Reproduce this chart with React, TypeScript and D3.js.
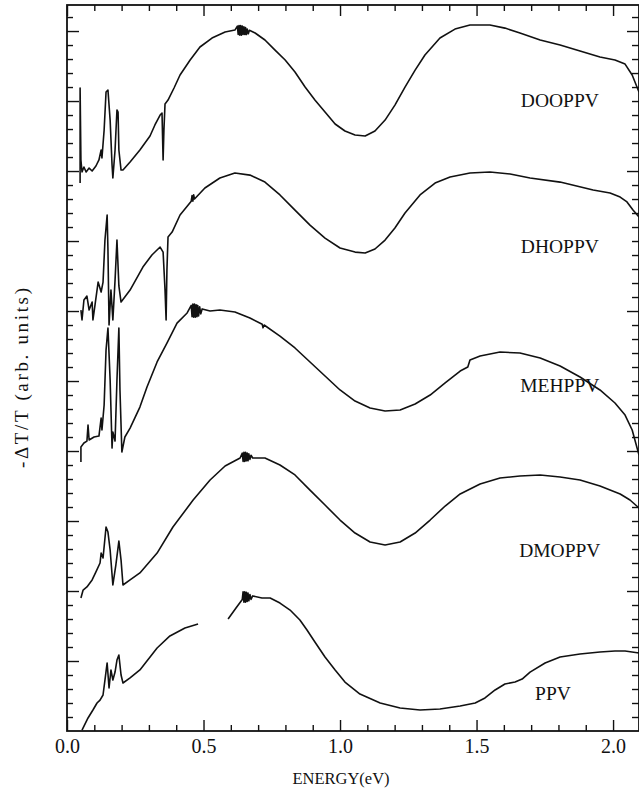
import React, { useEffect, useRef } from "react";
import * as d3 from "d3";

// energy (eV), signal (arb. units, one unit per minor tick)
const dooppv: [number, number][] = [
  [0.048, 39.14], [0.048, 45.93], [0.051, 40.79], [0.055, 39.93], [0.062, 40.29], [0.07, 39.93],
  [0.081, 40.21], [0.092, 40.0], [0.106, 40.36], [0.117, 40.79], [0.125, 41.5], [0.128, 40.93],
  [0.136, 42.93], [0.143, 45.64], [0.15, 45.79], [0.158, 43.64], [0.165, 40.43], [0.168, 39.5],
  [0.176, 41.5], [0.183, 44.36], [0.187, 44.21], [0.19, 41.5], [0.198, 40.07], [0.205, 40.07],
  [0.231, 40.64], [0.267, 41.5], [0.304, 42.5], [0.322, 43.29], [0.341, 44.0], [0.348, 44.14],
  [0.352, 40.79], [0.355, 42.93], [0.359, 44.79], [0.37, 45.07], [0.392, 45.93], [0.414, 46.86],
  [0.451, 47.93], [0.487, 48.86], [0.531, 49.5], [0.579, 49.93], [0.615, 50.07], [0.624, 50.35],
  [0.627, 49.75], [0.630, 50.4], [0.633, 49.7], [0.636, 50.4], [0.639, 49.7], [0.642, 50.35],
  [0.645, 49.75], [0.648, 50.3], [0.651, 49.75], [0.654, 50.25], [0.657, 49.75], [0.66, 50.15],
  [0.664, 49.8], [0.668, 50.05], [0.689, 49.86], [0.725, 49.36], [0.762, 48.64],
  [0.799, 47.93], [0.835, 47.07], [0.872, 46.0], [0.908, 45.07], [0.945, 44.21], [0.982, 43.36],
  [1.018, 42.86], [1.055, 42.57], [1.092, 42.5], [1.128, 42.86], [1.165, 43.64], [1.201, 44.71],
  [1.238, 46.0], [1.275, 47.21], [1.311, 48.29], [1.366, 49.5], [1.421, 50.14], [1.476, 50.43],
  [1.549, 50.43], [1.604, 50.21], [1.659, 49.86], [1.733, 49.36], [1.806, 49.0], [1.879, 48.57],
  [1.952, 48.14], [2.007, 47.93], [2.044, 47.64], [2.07, 46.86], [2.095, 45.64],
];

const dhoppv: [number, number][] = [
  [0.051, 30.07], [0.055, 29.36], [0.062, 30.79], [0.073, 31.07], [0.081, 30.07], [0.092, 30.64],
  [0.095, 29.36], [0.103, 30.5], [0.114, 32.07], [0.125, 31.36], [0.132, 32.07], [0.139, 35.07],
  [0.147, 36.86], [0.15, 34.36], [0.154, 29.0], [0.161, 31.5], [0.168, 29.36], [0.176, 32.21],
  [0.183, 35.07], [0.19, 31.79], [0.198, 30.64], [0.231, 31.5], [0.278, 33.14], [0.311, 34.0],
  [0.341, 34.57], [0.352, 34.21], [0.359, 31.5], [0.363, 29.36], [0.366, 32.93], [0.37, 35.29],
  [0.385, 35.64], [0.414, 36.86], [0.455, 37.85], [0.458, 38.25], [0.461, 37.85], [0.464, 38.3],
  [0.467, 38.0], [0.505, 38.79], [0.56, 39.5], [0.615, 39.86], [0.67, 39.71], [0.725, 39.21],
  [0.78, 38.29], [0.835, 37.21], [0.89, 36.14], [0.945, 35.21], [1.0, 34.5], [1.055, 34.21],
  [1.092, 34.14], [1.128, 34.43], [1.165, 35.07], [1.201, 35.93], [1.238, 37.0], [1.293, 38.29],
  [1.348, 39.14], [1.403, 39.57], [1.476, 39.86], [1.549, 39.93], [1.623, 39.79], [1.696, 39.5],
  [1.806, 39.21], [1.927, 38.64], [1.989, 38.43], [2.026, 38.14], [2.051, 37.79], [2.073, 37.21],
  [2.095, 36.71],
];

const mehppv: [number, number][] = [
  [0.051, 19.21], [0.051, 20.29], [0.062, 20.57], [0.073, 20.71], [0.077, 21.86], [0.081, 20.79],
  [0.099, 21.0], [0.117, 21.07], [0.125, 22.36], [0.128, 21.5], [0.136, 23.29], [0.143, 27.21],
  [0.15, 28.79], [0.158, 25.07], [0.165, 20.21], [0.168, 21.36], [0.176, 20.71], [0.183, 25.07],
  [0.19, 28.79], [0.194, 24.36], [0.201, 19.93], [0.212, 21.0], [0.231, 21.64], [0.267, 23.14],
  [0.293, 24.57], [0.33, 26.36], [0.366, 27.71], [0.403, 29.14], [0.44, 29.86], [0.455, 30.4],
  [0.458, 29.6], [0.461, 30.5], [0.464, 29.55], [0.467, 30.5], [0.470, 29.55], [0.473, 30.45],
  [0.476, 29.6], [0.479, 30.4], [0.482, 29.65], [0.486, 30.3], [0.49, 29.8], [0.495, 30.15],
  [0.524, 30.0], [0.56, 30.07], [0.615, 29.93], [0.67, 29.5], [0.715, 29.05], [0.718, 28.8],
  [0.722, 29.0], [0.78, 28.21], [0.835, 27.36], [0.89, 26.36], [0.945, 25.36], [1.0, 24.36],
  [1.055, 23.57], [1.11, 23.07], [1.165, 22.86], [1.22, 22.93], [1.275, 23.36], [1.33, 24.0],
  [1.385, 24.86], [1.44, 25.71], [1.468, 26.0], [1.476, 26.5], [1.513, 26.79], [1.586, 27.07],
  [1.659, 27.0], [1.733, 26.64], [1.806, 26.07], [1.879, 25.29], [1.952, 24.36], [2.007, 23.43],
  [2.044, 22.57], [2.07, 21.5], [2.095, 19.71],
];

const dmoppv: [number, number][] = [
  [0.051, 9.5], [0.059, 10.07], [0.073, 10.29], [0.092, 10.79], [0.106, 11.36], [0.121, 12.0],
  [0.125, 12.71], [0.132, 12.36], [0.143, 14.57], [0.15, 14.21], [0.158, 12.93], [0.168, 10.43],
  [0.179, 11.86], [0.19, 13.57], [0.198, 12.21], [0.205, 10.43], [0.231, 10.79], [0.267, 11.29],
  [0.33, 12.71], [0.388, 14.57], [0.462, 16.5], [0.524, 17.93], [0.579, 18.93], [0.634, 19.5],
  [0.642, 19.85], [0.645, 19.25], [0.648, 19.9], [0.651, 19.25], [0.654, 19.9], [0.657, 19.3],
  [0.66, 19.85], [0.663, 19.3], [0.666, 19.8], [0.67, 19.4], [0.674, 19.7], [0.68, 19.5],
  [0.725, 19.5], [0.78, 19.0], [0.835, 18.29], [0.89, 17.21], [0.945, 16.14], [1.0, 15.07],
  [1.055, 14.14], [1.11, 13.5], [1.165, 13.29], [1.22, 13.5], [1.275, 14.14], [1.33, 15.07],
  [1.385, 16.07], [1.44, 16.93], [1.513, 17.64], [1.586, 18.07], [1.659, 18.21], [1.733, 18.29],
  [1.806, 18.14], [1.879, 17.93], [1.952, 17.5], [2.026, 16.93], [2.062, 16.5], [2.095, 15.93],
];

// PPV has a gap between 0.48 and 0.59 eV
const ppvLow: [number, number][] = [
  [0.055, 0.07], [0.077, 0.93], [0.095, 1.5], [0.11, 2.0], [0.121, 2.21], [0.132, 2.57],
  [0.139, 3.64], [0.147, 4.86], [0.154, 3.07], [0.161, 4.36], [0.168, 3.64], [0.176, 4.21],
  [0.183, 5.07], [0.19, 5.43], [0.198, 4.0], [0.205, 3.43], [0.231, 3.79], [0.267, 4.36],
  [0.33, 5.93], [0.377, 6.79], [0.432, 7.36], [0.48, 7.64],
];

const ppvHigh: [number, number][] = [
  [0.59, 8.0], [0.619, 8.79], [0.642, 9.4], [0.645, 9.95], [0.648, 9.2], [0.651, 9.95],
  [0.654, 9.2], [0.657, 9.9], [0.66, 9.25], [0.663, 9.85], [0.666, 9.3], [0.67, 9.75],
  [0.674, 9.4], [0.68, 9.65], [0.714, 9.5], [0.744, 9.5], [0.78, 9.14], [0.817, 8.64],
  [0.853, 7.93], [0.879, 7.21], [0.908, 6.36], [0.945, 5.29], [0.982, 4.36], [1.018, 3.5],
  [1.073, 2.64], [1.147, 2.0], [1.22, 1.64], [1.293, 1.5], [1.366, 1.57], [1.44, 1.79],
  [1.495, 2.0], [1.531, 2.36], [1.568, 2.93], [1.604, 3.36], [1.641, 3.5], [1.667, 3.71],
  [1.696, 4.21], [1.751, 4.86], [1.806, 5.29], [1.879, 5.5], [1.952, 5.64], [2.007, 5.71],
  [2.044, 5.71], [2.095, 5.57],
];

const seriesNames = ["DOOPPV", "DHOPPV", "MEHPPV", "DMOPPV", "PPV"];
const xMajorTicks = [0, 0.5, 1.0, 1.5, 2.0];

function App() {
  const svgRef = useRef<SVGSVGElement>(null);

  useEffect(() => {
    const width = 639, height = 790;
    const margin = { top: 5, bottom: 59, left: 67, right: 0 };
    const font = "'Liberation Serif', 'Times New Roman', Times, serif";

    const svg = d3.select(svgRef.current);
    svg.selectAll("*").remove();

    const x = d3.scaleLinear().domain([0, 2.095]).range([margin.left, width - margin.right]);
    const y = d3.scaleLinear().domain([0, 51.86]).range([height - margin.bottom, margin.top]);

    const minorX = d3.range(1, 21).map((i) => i / 10).filter((v) => Math.round(v * 10) % 5 !== 0);
    const minorY = d3.range(1, 52).filter((v) => v % 5 !== 0);
    const leftMajorY = d3.range(5, 52, 5);
    const rightMajorY = d3.range(10, 52, 10);
    const rightMinorY = d3.range(1, 52).filter((v) => v % 10 !== 0);

    const bottomY = y(0);
    const topY = y(51.86);

    // frame
    svg.append("rect")
      .attr("x", margin.left)
      .attr("y", topY)
      .attr("width", width - margin.right - margin.left)
      .attr("height", bottomY - topY)
      .attr("fill", "none")
      .attr("stroke", "#111")
      .attr("stroke-width", 1.8);

    const styleAxis = (g: any) => {
      g.select(".domain").remove();
      g.selectAll("line").attr("stroke", "#111").attr("stroke-width", 1.4);
    };

    // bottom axis
    svg.append("g")
      .attr("transform", `translate(0,${bottomY})`)
      .call(d3.axisBottom(x).tickValues(minorX).tickSize(-6).tickFormat(() => ""))
      .call(styleAxis);
    svg.append("g")
      .attr("transform", `translate(0,${bottomY})`)
      .call(d3.axisBottom(x).tickValues(xMajorTicks).tickSize(-11).tickPadding(8).tickFormat(d3.format(".1f") as any))
      .call(styleAxis)
      .selectAll("text")
      .style("font-family", font)
      .style("font-size", "20px")
      .attr("fill", "#111");

    // top axis
    svg.append("g")
      .attr("transform", `translate(0,${topY})`)
      .call(d3.axisTop(x).tickValues(minorX).tickSize(-6).tickFormat(() => ""))
      .call(styleAxis);
    svg.append("g")
      .attr("transform", `translate(0,${topY})`)
      .call(d3.axisTop(x).tickValues(xMajorTicks).tickSize(-11).tickFormat(() => ""))
      .call(styleAxis);

    // left axis
    svg.append("g")
      .attr("transform", `translate(${margin.left},0)`)
      .call(d3.axisLeft(y).tickValues(minorY).tickSize(-6).tickFormat(() => ""))
      .call(styleAxis);
    svg.append("g")
      .attr("transform", `translate(${margin.left},0)`)
      .call(d3.axisLeft(y).tickValues(leftMajorY).tickSize(-12).tickFormat(() => ""))
      .call(styleAxis);

    // right axis
    svg.append("g")
      .attr("transform", `translate(${width - margin.right},0)`)
      .call(d3.axisRight(y).tickValues(rightMinorY).tickSize(-7).tickFormat(() => ""))
      .call(styleAxis);
    svg.append("g")
      .attr("transform", `translate(${width - margin.right},0)`)
      .call(d3.axisRight(y).tickValues(rightMajorY).tickSize(-12).tickFormat(() => ""))
      .call(styleAxis);

    // curves
    const line = d3.line<[number, number]>()
      .x((d) => x(d[0]))
      .y((d) => y(d[1]));

    [dooppv, dhoppv, mehppv, dmoppv, ppvLow, ppvHigh].forEach((s) => {
      svg.append("path")
        .datum(s)
        .attr("d", line)
        .attr("fill", "none")
        .attr("stroke", "#111")
        .attr("stroke-width", 1.6)
        .attr("stroke-linejoin", "round");
    });

    // curve labels
    const labelPos = [
      { x: 1.805, y: 44.57 },
      { x: 1.805, y: 34.14 },
      { x: 1.805, y: 24.21 },
      { x: 1.805, y: 12.43 },
      { x: 1.78, y: 2.21 },
    ];
    seriesNames.forEach((name, i) => {
      svg.append("text")
        .attr("x", x(labelPos[i].x))
        .attr("y", y(labelPos[i].y))
        .attr("text-anchor", "middle")
        .style("font-family", font)
        .style("font-size", "19.5px")
        .attr("fill", "#111")
        .text(name);
    });

    // axis titles
    svg.append("text")
      .attr("x", 341)
      .attr("y", 784)
      .attr("text-anchor", "middle")
      .style("font-family", font)
      .style("font-size", "16.5px")
      .attr("fill", "#111")
      .text("ENERGY(eV)");

    svg.append("text")
      .attr("transform", "translate(28,378) rotate(-90)")
      .attr("text-anchor", "middle")
      .style("font-family", font)
      .style("font-size", "19px")
      .attr("fill", "#111")
      .attr("textLength", 180)
      .attr("lengthAdjust", "spacing")
      .text("-ΔT/T (arb. units)");
  }, []);

  return (
    <svg
      ref={svgRef}
      width={639}
      height={790}
      style={{ position: "absolute", left: 0, top: 0, background: "#fff" }}
    />
  );
}

export default App;
